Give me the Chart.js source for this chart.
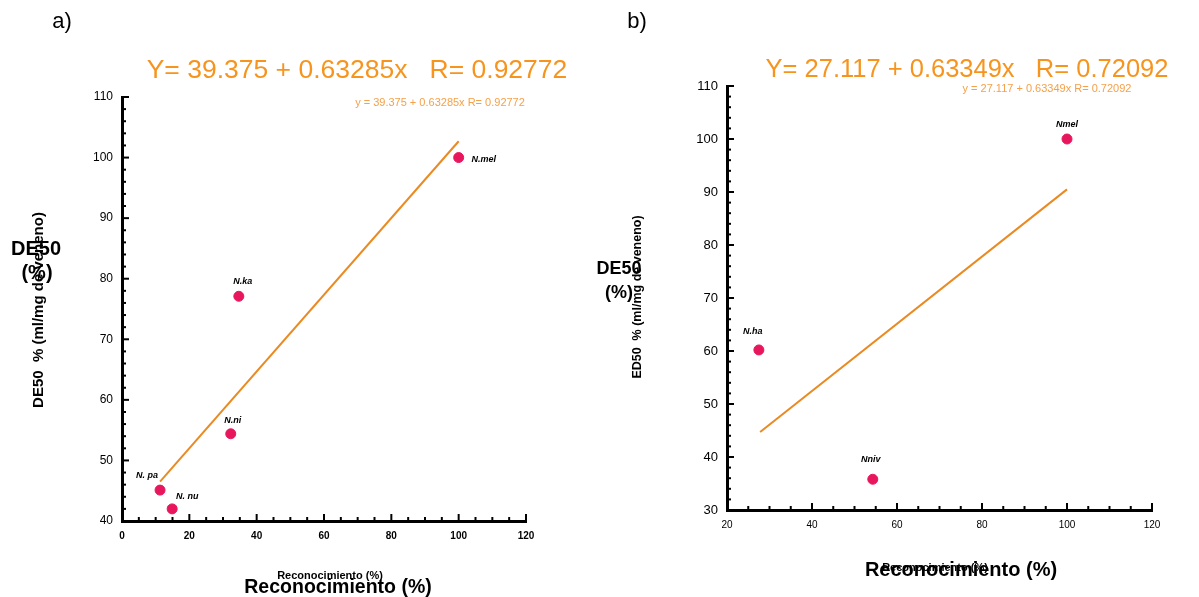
<!DOCTYPE html>
<html>
<head>
<meta charset="utf-8">
<script src="https://cdn.jsdelivr.net/npm/chart.js@4.4.1/dist/chart.umd.min.js"></script>
<style>
body{margin:0;background:#fff;font-family:"Liberation Sans",Arial,sans-serif;}
#wrap{position:relative;width:1199px;height:597px;overflow:hidden;background:#fff;}
.box{position:absolute;top:0;height:597px;}
.t{position:absolute;white-space:nowrap;color:#000;transform:translate(-50%,-50%);line-height:1;}
.eq{color:#f7941d;}
.eqs{color:#f5a04a;font-size:11px;}
.big{font-weight:bold;}
.rot{transform:translate(-50%,-50%) rotate(-90deg);font-weight:bold;}
</style>
</head>
<body>
<div id="wrap">
<div class="box" style="left:0;width:600px"><canvas id="chartA"></canvas></div>
<div class="box" style="left:600px;width:599px"><canvas id="chartB"></canvas></div>

<div class="t" style="left:62px;top:21px;font-size:22px">a)</div>
<div class="t eq" style="left:357px;top:69px;font-size:26.5px">Y= 39.375 + 0.63285x&nbsp;&nbsp; R= 0.92772</div>
<div class="t eqs" style="left:440px;top:102px">y = 39.375 + 0.63285x R= 0.92772</div>
<div class="t rot" style="left:37px;top:310px;font-size:15px">DE50&nbsp; % (ml/mg de veneno)</div>
<div class="t big" style="left:36px;top:248px;font-size:20px">DE50</div>
<div class="t big" style="left:37px;top:272px;font-size:20px">(%)</div>
<div class="t" style="left:330px;top:575px;font-size:11px;font-weight:bold">Reconocimiento (%)</div>
<div class="t big" style="left:338px;top:587px;font-size:19.5px">Reconocimiento (%)</div>

<div class="t" style="left:637px;top:21px;font-size:22px">b)</div>
<div class="t eq" style="left:967px;top:69px;font-size:25.5px">Y= 27.117 + 0.63349x&nbsp;&nbsp; R= 0.72092</div>
<div class="t eqs" style="left:1047px;top:88px">y = 27.117 + 0.63349x R= 0.72092</div>
<div class="t rot" style="left:637px;top:297px;font-size:12.5px">ED50&nbsp; % (ml/mg de veneno)</div>
<div class="t big" style="left:619px;top:268px;font-size:18px">DE50</div>
<div class="t big" style="left:619px;top:292px;font-size:18px">(%)</div>
<div class="t" style="left:935px;top:567px;font-size:11px;font-weight:bold">Reconocimiento (%)</div>
<div class="t big" style="left:961px;top:569px;font-size:20px">Reconocimiento (%)</div>
</div>

<script>
// panel a
const speciesA = ["N.mel", "N.ka", "N.ni", "N. pa", "N. nu"];
const reconA = [100, 34.7, 32.3, 11.3, 14.9];
const de50A = [100, 77.1, 54.4, 45.1, 42.0];
const fitXA = [11.3, 100];
const fitYA = [46.5, 102.7];

// panel b
const speciesB = ["Nmel", "N.ha", "Nniv"];
const reconB = [100, 27.5, 54.3];
const ed50B = [100, 60.2, 35.8];
const fitXB = [27.8, 100];
const fitYB = [44.7, 90.5];

const dotColor = "#e8175d";
const lineColor = "#e98a22";

// inward tick marks, major and minor, placed by the scales
const tickMarks = {
    id: "tickMarks",
    afterDraw(chart, args, opts) {
        const ctx = chart.ctx;
        const a = chart.chartArea;
        ctx.save();
        ctx.strokeStyle = "#000";
        ["x", "y"].forEach(id => {
            const s = chart.scales[id];
            const o = opts[id];
            for (let v = s.min; v <= s.max + 1e-6; v += o.minor) {
                const major = Math.abs(v / o.major - Math.round(v / o.major)) < 1e-6;
                const len = major ? 7 : 4;
                ctx.lineWidth = 2;
                ctx.beginPath();
                const p = s.getPixelForValue(v);
                if (id === "x") {
                    ctx.moveTo(p, a.bottom);
                    ctx.lineTo(p, a.bottom - len);
                } else {
                    ctx.moveTo(a.left, p);
                    ctx.lineTo(a.left + len, p);
                }
                ctx.stroke();
            }
        });
        ctx.restore();
    }
};

// species names next to the dots
const pointNames = {
    id: "pointNames",
    afterDatasetsDraw(chart, args, opts) {
        const ctx = chart.ctx;
        const meta = chart.getDatasetMeta(1);
        ctx.save();
        ctx.font = "italic bold " + opts.size + "px 'Liberation Sans', Arial, sans-serif";
        ctx.fillStyle = "#000";
        ctx.textAlign = "center";
        ctx.textBaseline = "middle";
        meta.data.forEach((pt, i) => {
            const off = opts.offsets[i];
            ctx.fillText(opts.names[i], pt.x + off[0], pt.y + off[1]);
        });
        ctx.restore();
    }
};

function makeChart(id, cfg) {
    const fitPts = cfg.fitX.map((x, i) => ({x: x, y: cfg.fitY[i]}));
    const pts = cfg.recon.map((x, i) => ({x: x, y: cfg.vals[i]}));
    return new Chart(document.getElementById(id), {
        type: "scatter",
        data: {
            datasets: [{
                type: "line",
                data: fitPts,
                borderColor: lineColor,
                borderWidth: 2,
                pointRadius: 0,
                fill: false
            }, {
                data: pts,
                backgroundColor: dotColor,
                borderColor: dotColor,
                pointRadius: 5,
                pointHoverRadius: 5
            }]
        },
        options: {
            responsive: false,
            animation: false,
            events: [],
            layout: {padding: cfg.padding},
            plugins: {
                legend: {display: false},
                tooltip: {enabled: false},
                tickMarks: cfg.ticks,
                pointNames: {names: cfg.names, offsets: cfg.offsets, size: cfg.nameSize}
            },
            scales: {
                x: {
                    type: "linear",
                    min: cfg.xMin, max: cfg.xMax,
                    grid: {display: false, drawTicks: false},
                    border: {color: "#000", width: 3},
                    afterFit: s => { s.height = 30; },
                    ticks: {
                        stepSize: cfg.ticks.x.major,
                        padding: 9,
                        color: "#000",
                        font: {size: cfg.xFont, weight: cfg.xWeight, family: "'Liberation Sans', Arial"}
                    }
                },
                y: {
                    type: "linear",
                    min: cfg.yMin, max: cfg.yMax,
                    grid: {display: false, drawTicks: false},
                    border: {color: "#000", width: 3},
                    afterFit: s => { s.width = 40; },
                    ticks: {
                        stepSize: cfg.ticks.y.major,
                        padding: 9,
                        color: "#000",
                        font: {size: cfg.yFont, family: "'Liberation Sans', Arial"}
                    }
                }
            }
        },
        plugins: [tickMarks, pointNames]
    });
}

const ca = document.getElementById("chartA");
ca.width = 600; ca.height = 597;
const cb = document.getElementById("chartB");
cb.width = 599; cb.height = 597;

makeChart("chartA", {
    recon: reconA, vals: de50A, fitX: fitXA, fitY: fitYA, names: speciesA,
    offsets: [[25, 2], [4, -15], [2, -13], [-13, -15], [15, -12]],
    nameSize: 9,
    xMin: 0, xMax: 120, yMin: 40, yMax: 110,
    ticks: {x: {major: 20, minor: 5}, y: {major: 10, minor: 2}},
    padding: {left: 82, top: 97, right: 74, bottom: 46},
    xFont: 10, xWeight: "bold", yFont: 12
});

makeChart("chartB", {
    recon: reconB, vals: ed50B, fitX: fitXB, fitY: fitYB, names: speciesB,
    offsets: [[0, -14], [-6, -18], [-2, -20]],
    nameSize: 9,
    xMin: 20, xMax: 120, yMin: 30, yMax: 110,
    ticks: {x: {major: 20, minor: 5}, y: {major: 10, minor: 2}},
    padding: {left: 87, top: 86, right: 47, bottom: 57},
    xFont: 10, xWeight: "normal", yFont: 13
});
</script>
</body>
</html>
